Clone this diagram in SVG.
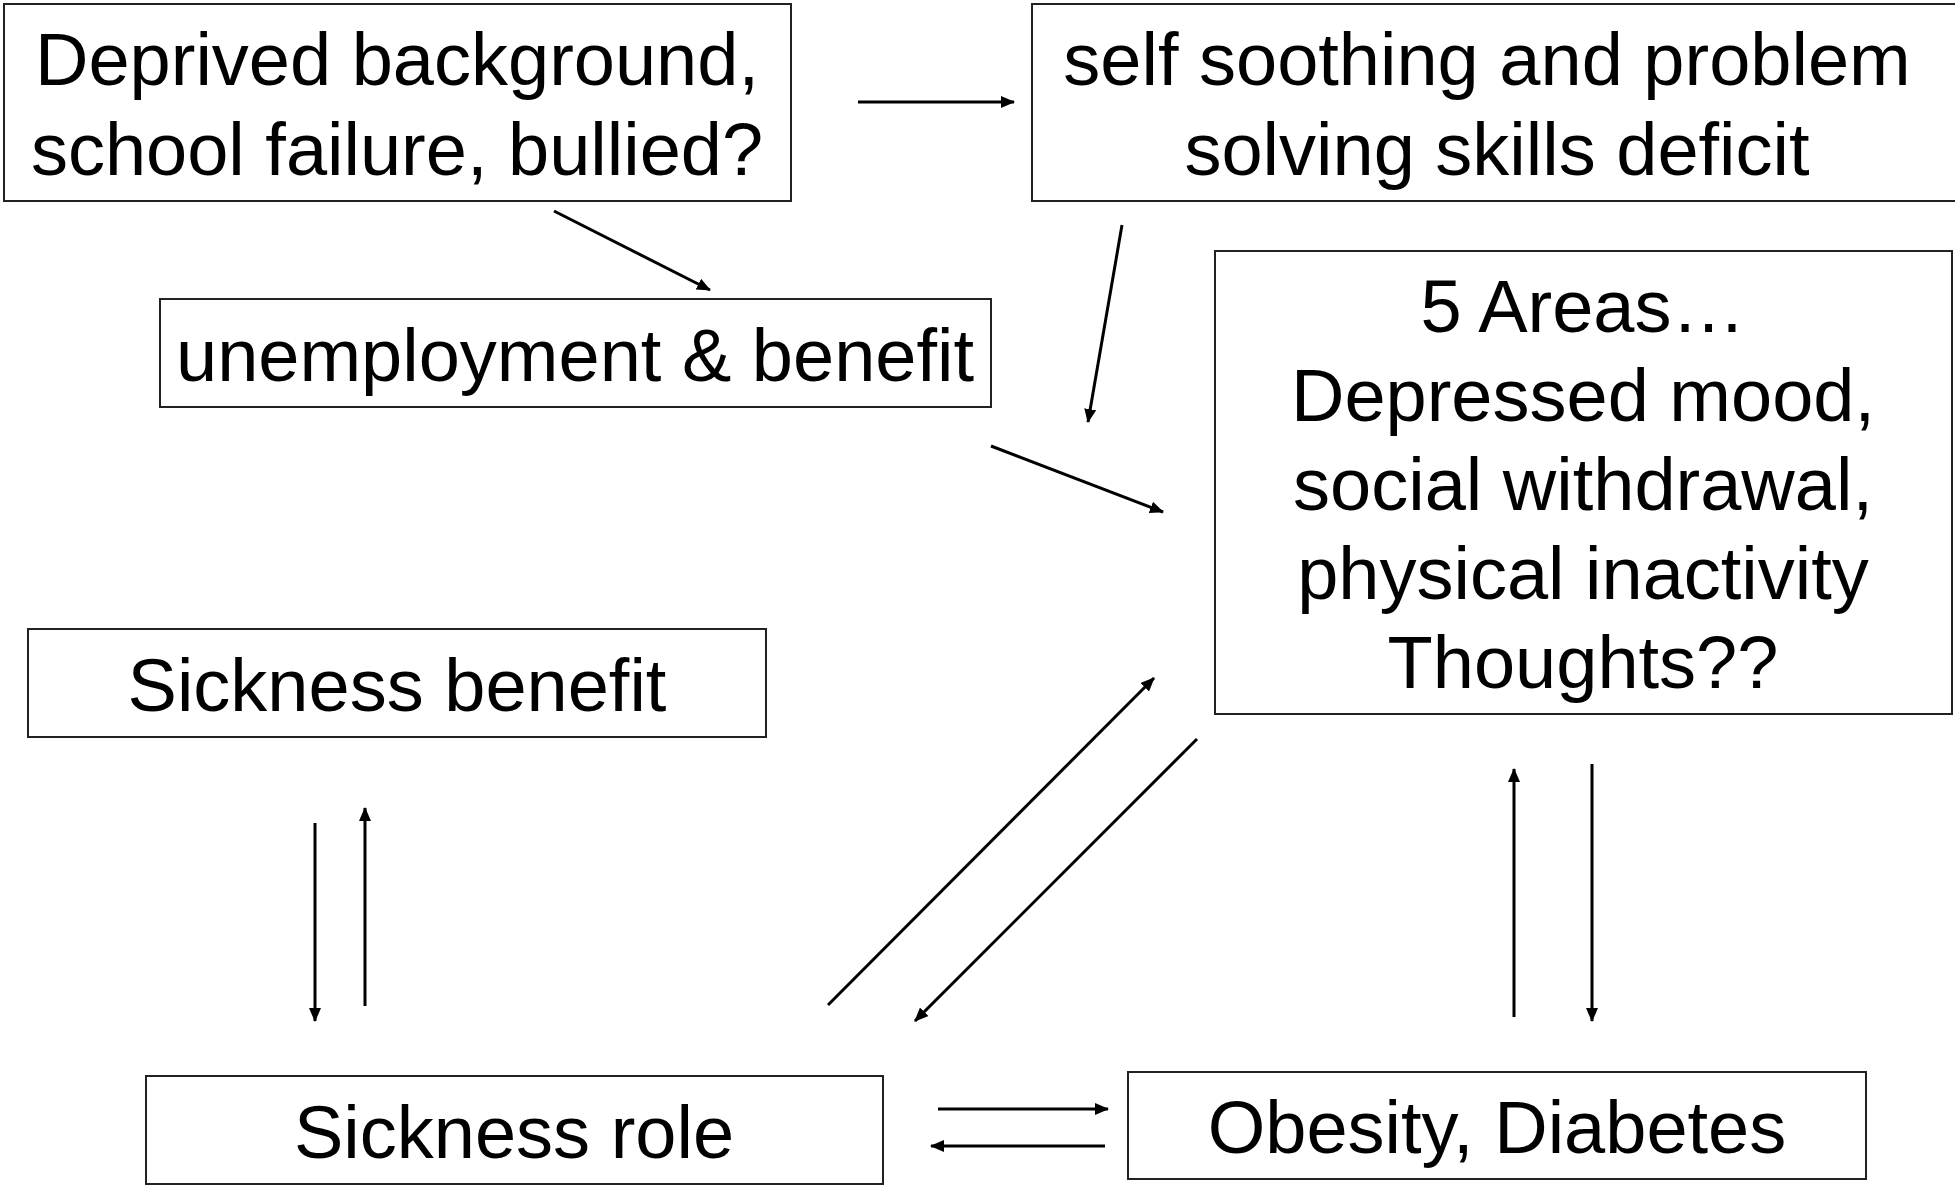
<svg xmlns="http://www.w3.org/2000/svg" width="1955" height="1191" viewBox="0 0 1955 1191">
<style>
.box{fill:#fff;stroke:#222;stroke-width:2}
.t{font-family:"Liberation Sans",Arial,sans-serif;font-size:74px;fill:#000;text-anchor:middle}
.c{stroke:#000;stroke-width:3;fill:none;marker-end:url(#ah)}
</style>
<defs>
<marker id="ah" markerUnits="userSpaceOnUse" markerWidth="14" markerHeight="12" refX="13" refY="6" orient="auto">
<path d="M0,0 L14,6 L0,12 z" fill="#000"/>
</marker>
</defs>
<rect width="1955" height="1191" fill="#fff"/>
<g id="n1">
<rect class="box" x="4" y="4" width="787" height="197"/>
<text class="t" x="397" y="85">Deprived background,</text>
<text class="t" x="397" y="175">school failure, bullied?</text>
</g>
<g id="n2">
<rect class="box" x="1032" y="4" width="930" height="197"/>
<text class="t" x="1487" y="85">self soothing and problem</text>
<text class="t" x="1497" y="175">solving skills deficit</text>
</g>
<g id="n3">
<rect class="box" x="160" y="299" width="831" height="108"/>
<text class="t" x="575" y="381">unemployment &amp; benefit</text>
</g>
<g id="n4">
<rect class="box" x="1215" y="251" width="737" height="463"/>
<text class="t" x="1583" y="332">5 Areas…</text>
<text class="t" x="1583" y="421">Depressed mood,</text>
<text class="t" x="1583" y="510">social withdrawal,</text>
<text class="t" x="1583" y="599">physical inactivity</text>
<text class="t" x="1583" y="688">Thoughts??</text>
</g>
<g id="n5">
<rect class="box" x="28" y="629" width="738" height="108"/>
<text class="t" x="397" y="711">Sickness benefit</text>
</g>
<g id="n6">
<rect class="box" x="146" y="1076" width="737" height="108"/>
<text class="t" x="514" y="1158">Sickness role</text>
</g>
<g id="n7">
<rect class="box" x="1128" y="1072" width="738" height="107"/>
<text class="t" x="1497" y="1153">Obesity, Diabetes</text>
</g>
<g id="connectors">
<line class="c" x1="858" y1="102" x2="1014" y2="102"/>
<line class="c" x1="554" y1="211" x2="710" y2="290"/>
<line class="c" x1="1122" y1="225" x2="1088" y2="422"/>
<line class="c" x1="991" y1="446" x2="1163" y2="512"/>
<line class="c" x1="828" y1="1005" x2="1154" y2="678"/>
<line class="c" x1="1197" y1="739" x2="915" y2="1021"/>
<line class="c" x1="1514" y1="1017" x2="1514" y2="769"/>
<line class="c" x1="1592" y1="764" x2="1592" y2="1021"/>
<line class="c" x1="315" y1="823" x2="315" y2="1021"/>
<line class="c" x1="365" y1="1006" x2="365" y2="808"/>
<line class="c" x1="938" y1="1109" x2="1108" y2="1109"/>
<line class="c" x1="1105" y1="1146" x2="931" y2="1146"/>
</g>
</svg>
